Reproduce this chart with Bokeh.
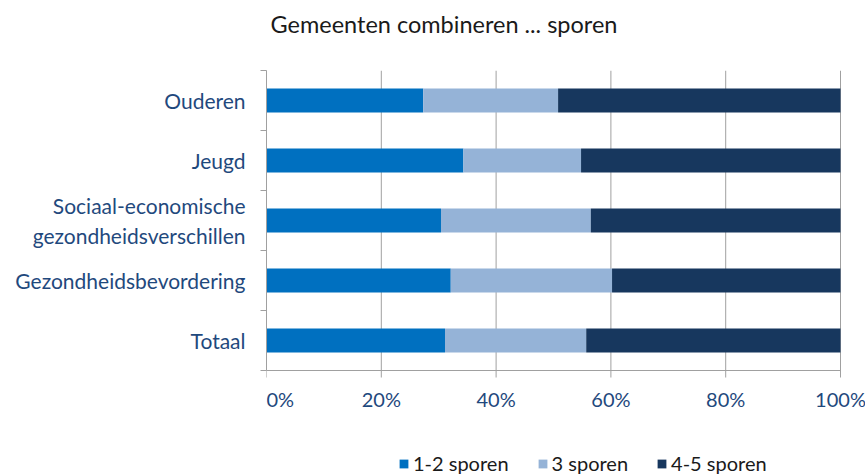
from bokeh.plotting import figure
from bokeh.models import (ColumnDataSource, Range1d, FixedTicker, Legend, LegendItem, Title)
from bokeh.core.properties import value
from bokeh.embed import file_html
from bokeh.resources import INLINE

categories = ["Ouderen", "Jeugd", "Sociaal-economische\ngezondheidsverschillen",
              "Gezondheidsbevordering", "Totaal"]
series_names = ["1-2 sporen", "3 sporen", "4-5 sporen"]
v_1_2 = [27.3, 34.3, 30.4, 32.1, 31.1]
v_3 = [23.5, 20.5, 26.1, 28.1, 24.6]
v_4_5 = [49.2, 45.2, 43.5, 39.8, 44.3]
x_ticks = [0, 20, 40, 60, 80, 100]
x_labels = [f"{t}%" for t in x_ticks]
colors = ["#0070C0", "#95B3D7", "#17375E"]

FONT = "Lato"
LABEL_COLOR = "#1F497D"
GRID = "#A0A0A0"

n = len(categories)
ypos = [n - i - 0.5 for i in range(n)]
source = ColumnDataSource(dict(y=ypos, a=v_1_2, b=v_3, c=v_4_5))

FRAME_H = 405           # frame runs from the plot top down to the bottom of the canvas
PX_PER_ROW = 60
PX_PER_PCT = 5.74
RIGHT_PAD = 25          # room for the last tick label
y_min = n - FRAME_H / PX_PER_ROW
x_max = x_ticks[-1] + RIGHT_PAD / PX_PER_PCT

p = figure(output_backend="svg", toolbar_location=None,
           x_range=Range1d(0, x_max), y_range=Range1d(y_min, n),
           frame_width=574 + RIGHT_PAD, frame_height=FRAME_H,
           min_border_left=266, min_border_right=0, min_border_top=70, min_border_bottom=0,
           x_axis_location=None)
p.outline_line_color = None
p.background_fill_color = "white"
p.border_fill_color = "white"
p.xgrid.grid_line_color = None
p.ygrid.grid_line_color = None

# vertical gridlines (extending 7px below the axis as ticks) and the x axis line
tick_len = 7 / PX_PER_ROW
p.segment(x0=x_ticks, x1=x_ticks, y0=[-tick_len] * len(x_ticks), y1=[n] * len(x_ticks),
          line_color=GRID, line_width=1)
p.segment(x0=[x_ticks[0]], x1=[x_ticks[-1]], y0=[0], y1=[0], line_color=GRID, line_width=1)

renderers = p.hbar_stack(["a", "b", "c"], y="y", height=0.4, color=colors, source=source,
                         line_color=None)

# x tick labels
label_y = -28 / PX_PER_ROW
p.text(x=x_ticks[:1], y=[label_y], text=x_labels[:1],
       text_font=value(FONT), text_font_size="20px", text_color=LABEL_COLOR,
       text_align="left", text_baseline="middle")
p.text(x=x_ticks[1:], y=[label_y] * (len(x_ticks) - 1), text=x_labels[1:],
       text_font=value(FONT), text_font_size="20px", text_color=LABEL_COLOR,
       text_align="center", text_baseline="middle")

t = Title(text="Gemeenten combineren ... sporen\n ", text_font=FONT, text_font_size="23.5px",
          text_font_style="normal", text_color="#1A1A1A", align="left", offset=4)
p.add_layout(t, "above")

# y axis
ya = p.yaxis[0]
ya.bounds = (0, n)
ya.ticker = FixedTicker(ticks=ypos, minor_ticks=list(range(n + 1)))
ya.major_label_overrides = {y: c for y, c in zip(ypos, categories)}
ya.major_label_text_font = FONT
ya.major_label_text_font_size = "21px"
ya.major_label_text_color = LABEL_COLOR
ya.axis_line_color = GRID
ya.major_tick_line_color = None
ya.major_tick_out = 0
ya.major_tick_in = 0
ya.minor_tick_line_color = GRID
ya.minor_tick_out = 6
ya.minor_tick_in = 0
ya.major_label_standoff = 15

legend = Legend(items=[LegendItem(label=s, renderers=[r]) for s, r in zip(series_names, renderers)],
                orientation="horizontal", location=(132, 0),
                glyph_width=11, glyph_height=11, label_standoff=4, spacing=28,
                padding=0, margin=0, border_line_color=None, background_fill_alpha=0,
                label_text_font=FONT, label_text_font_size="20px", label_text_color="#1A1A1A")
p.add_layout(legend, "center")

open("out.html", "w").write(file_html(p, INLINE))
